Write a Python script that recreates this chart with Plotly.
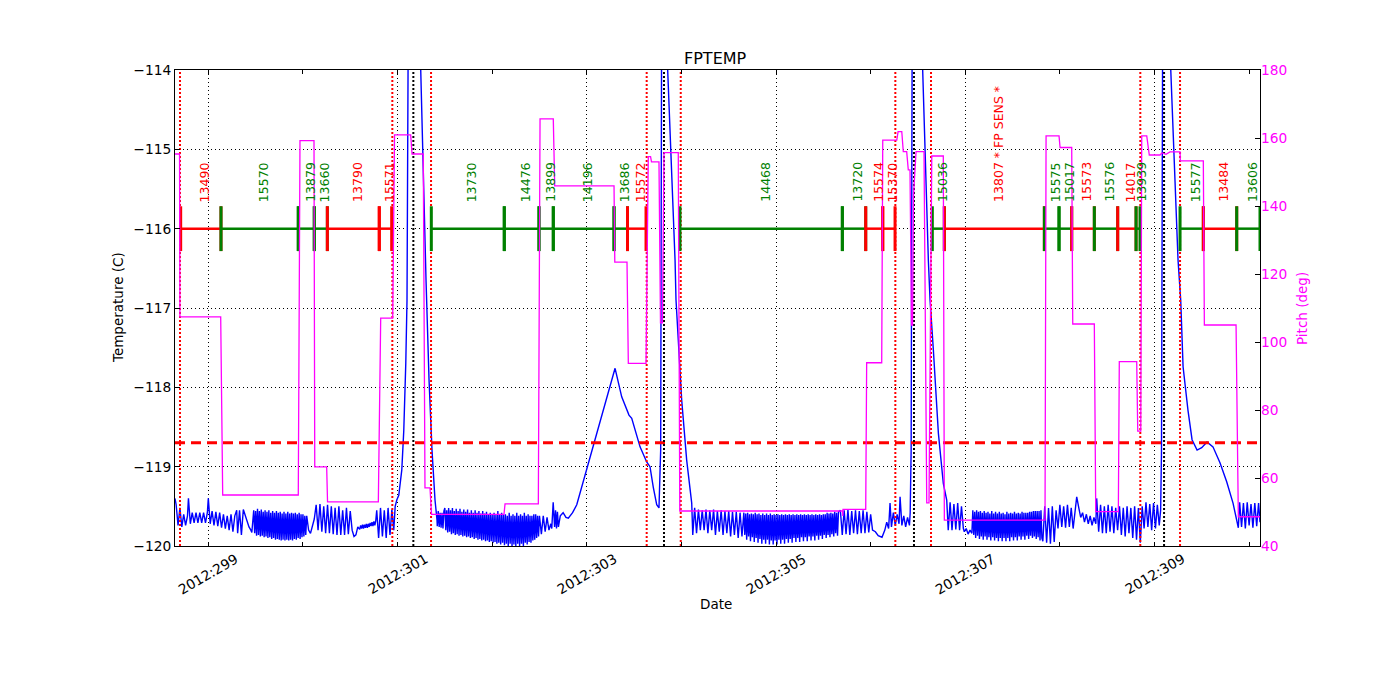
import plotly.graph_objects as go

# ------------------------------------------------------------------ data
x_range = [298.648, 310.115]
temp_range = [-120, -114]
pitch_range = [40, 180]

date_tick_days = [299, 301, 303, 305, 307, 309]
date_tick_text = ["2012:299", "2012:301", "2012:303", "2012:305", "2012:307", "2012:309"]

temp_limit = -118.7
bar_level = -116.0
label_level = -115.69

rad_zone_days = [298.701, 300.945, 301.354, 303.633, 303.993, 306.261, 306.638, 308.850, 309.270]
perigee_days = [301.167, 303.816, 306.458, 309.101]

# (start day, end day, label, colour key)
segments = [
    (298.708, 299.134, "13490", "red"),
    (299.134, 299.951, "15570", "green"),
    (299.951, 300.120, "13879", "green"),
    (300.120, 300.258, "13660", "green"),
    (300.258, 300.807, "13790", "red"),
    (300.807, 300.938, "15571", "red"),
    (301.357, 302.128, "13730", "green"),
    (302.128, 302.495, "14476", "green"),
    (302.495, 302.646, "13899", "green"),
    (302.646, 303.288, "14196", "green"),
    (303.288, 303.430, "13686", "green"),
    (303.430, 303.626, "15572", "red"),
    (303.985, 305.701, "14468", "green"),
    (305.701, 305.948, "13720", "green"),
    (305.948, 306.128, "15574", "red"),
    (306.128, 306.258, "15370", "red"),
    (306.652, 306.779, "15036", "green"),
    (306.779, 307.836, "13807 * FP SENS *", "red"),
    (307.836, 307.991, "15575", "green"),
    (307.991, 308.125, "15017", "green"),
    (308.125, 308.364, "15573", "red"),
    (308.364, 308.611, "15576", "green"),
    (308.611, 308.805, "14017", "red"),
    (308.805, 308.847, "13939", "green"),
    (309.270, 309.516, "15577", "green"),
    (309.516, 309.869, "13484", "red"),
    (309.869, 310.115, "13606", "green"),
]

# temperature (day, deg C)
temp_a = [
    (298.648, -119.40), (298.66, -119.48), (298.68, -119.74), (298.70, -119.52), (298.72, -119.76),
    (298.74, -119.60), (298.76, -119.74), (298.78, -119.62), (298.79, -119.40), (298.81, -119.72),
    (298.83, -119.58), (298.85, -119.71), (298.87, -119.58), (298.89, -119.71), (298.91, -119.58),
    (298.93, -119.71), (298.95, -119.58), (298.97, -119.71), (298.99, -119.58), (299.00, -119.40),
    (299.02, -119.72), (299.04, -119.56), (299.06, -119.74), (299.08, -119.57), (299.10, -119.75),
    (299.12, -119.58), (299.14, -119.77), (299.16, -119.60), (299.18, -119.78), (299.20, -119.62),
    (299.22, -119.80), (299.24, -119.60), (299.26, -119.82), (299.28, -119.62), (299.30, -119.55),
    (299.31, -119.84), (299.33, -119.55), (299.35, -119.86), (299.37, -119.54), (299.39, -119.62),
    (299.41, -119.70), (299.43, -119.76), (299.45, -119.80), (299.46, -119.83),
    (299.48, -119.55), (299.49, -119.84), (299.50, -119.56), (299.51, -119.87), (299.52, -119.53),
    (299.53, -119.86), (299.54, -119.56), (299.55, -119.88), (299.56, -119.54), (299.57, -119.87),
    (299.58, -119.57), (299.59, -119.89), (299.60, -119.55), (299.61, -119.88), (299.62, -119.57),
    (299.63, -119.90), (299.64, -119.55), (299.65, -119.89), (299.66, -119.58), (299.67, -119.91),
    (299.68, -119.56), (299.69, -119.90), (299.70, -119.58), (299.71, -119.92), (299.72, -119.56),
    (299.73, -119.91), (299.74, -119.58), (299.75, -119.92), (299.76, -119.57), (299.77, -119.93),
    (299.78, -119.59), (299.79, -119.92), (299.80, -119.57), (299.81, -119.93), (299.82, -119.59),
    (299.83, -119.92), (299.84, -119.57), (299.85, -119.93), (299.86, -119.59), (299.87, -119.92),
    (299.88, -119.58), (299.89, -119.93), (299.90, -119.59), (299.91, -119.91), (299.92, -119.58),
    (299.93, -119.92), (299.94, -119.60), (299.95, -119.90), (299.96, -119.58), (299.97, -119.91),
    (299.98, -119.60), (299.99, -119.89), (300.00, -119.60), (300.01, -119.88), (300.02, -119.62),
    (300.03, -119.86), (300.04, -119.62), (300.06, -119.80), (300.08, -119.84),
    (300.10, -119.76), (300.12, -119.66), (300.14, -119.48), (300.16, -119.80), (300.18, -119.47),
    (300.20, -119.82), (300.22, -119.50), (300.24, -119.84), (300.26, -119.48), (300.28, -119.84),
    (300.30, -119.50), (300.32, -119.85), (300.34, -119.52), (300.36, -119.86), (300.38, -119.50),
    (300.40, -119.86), (300.42, -119.55), (300.44, -119.86), (300.46, -119.52), (300.48, -119.85),
    (300.50, -119.56), (300.52, -119.80), (300.54, -119.88), (300.56, -119.86), (300.58, -119.76),
    (300.60, -119.79), (300.61, -119.74), (300.62, -119.78), (300.63, -119.73), (300.64, -119.78),
    (300.65, -119.73), (300.66, -119.77), (300.67, -119.72), (300.68, -119.77), (300.69, -119.72),
    (300.70, -119.76), (300.71, -119.71), (300.72, -119.75), (300.73, -119.70), (300.74, -119.75),
    (300.75, -119.69), (300.76, -119.74), (300.77, -119.68), (300.78, -119.55), (300.80, -119.90),
    (300.82, -119.52), (300.84, -119.88), (300.86, -119.55), (300.88, -119.90), (300.90, -119.52),
    (300.92, -119.86), (300.94, -119.54), (300.96, -119.80), (300.975, -119.50),
]
temp_spike1 = [
    (300.992, -119.42), (301.013, -119.36), (301.045, -119.04), (301.066, -118.54), (301.087, -117.70),
    (301.100, -116.90), (301.111, -114.00), (301.120, -113.00), (301.235, -113.00), (301.245, -114.00),
    (301.301, -116.65), (301.333, -117.91), (301.364, -118.79), (301.396, -119.42), (301.417, -119.67),
]
temp_b = [
    (301.42, -119.75), (301.43, -119.56), (301.44, -119.76), (301.45, -119.58), (301.46, -119.77),
    (301.47, -119.58), (301.48, -119.78), (301.49, -119.56),
    (301.50, -119.52), (301.51, -119.80), (301.52, -119.55), (301.53, -119.83), (301.54, -119.52),
    (301.55, -119.82), (301.56, -119.55), (301.57, -119.85), (301.58, -119.52), (301.59, -119.84),
    (301.60, -119.56), (301.61, -119.86), (301.62, -119.53), (301.63, -119.85), (301.64, -119.56),
    (301.65, -119.87), (301.66, -119.53), (301.67, -119.86), (301.68, -119.57), (301.69, -119.88),
    (301.70, -119.54), (301.71, -119.87), (301.72, -119.57), (301.73, -119.89), (301.74, -119.54),
    (301.75, -119.88), (301.76, -119.58), (301.77, -119.90), (301.78, -119.55), (301.79, -119.89),
    (301.80, -119.58), (301.81, -119.91), (301.82, -119.55), (301.83, -119.90), (301.84, -119.58),
    (301.85, -119.92), (301.86, -119.56), (301.87, -119.91), (301.88, -119.59), (301.89, -119.93),
    (301.90, -119.56), (301.91, -119.92), (301.92, -119.59), (301.93, -119.94), (301.94, -119.57),
    (301.95, -119.93), (301.96, -119.60), (301.97, -119.95), (301.98, -119.58), (301.99, -119.94),
    (302.00, -119.60), (302.01, -119.96), (302.02, -119.58), (302.03, -119.95), (302.04, -119.61),
    (302.05, -119.97), (302.06, -119.56), (302.07, -119.96), (302.08, -119.60), (302.09, -119.98),
    (302.10, -119.58), (302.11, -119.96), (302.12, -119.61), (302.13, -119.99), (302.14, -119.60),
    (302.15, -119.97), (302.16, -119.62), (302.17, -120.00), (302.18, -119.58), (302.19, -119.97),
    (302.20, -119.62), (302.21, -120.00), (302.22, -119.60), (302.23, -119.98), (302.24, -119.62),
    (302.25, -120.00), (302.26, -119.58), (302.27, -119.97), (302.28, -119.62), (302.29, -120.00),
    (302.30, -119.60), (302.31, -119.97), (302.32, -119.62), (302.33, -120.00), (302.34, -119.58),
    (302.35, -119.96), (302.36, -119.62), (302.37, -119.98), (302.38, -119.60), (302.39, -119.95),
    (302.40, -119.62), (302.41, -119.96), (302.42, -119.62), (302.43, -119.93), (302.44, -119.60),
    (302.45, -119.92), (302.46, -119.60), (302.47, -119.90), (302.48, -119.62), (302.49, -119.88),
    (302.50, -119.62), (302.52, -119.85), (302.54, -119.62),
    (302.56, -119.82), (302.58, -119.64), (302.60, -119.80), (302.62, -119.72), (302.63, -119.78),
    (302.645, -119.45), (302.66, -119.76), (302.67, -119.55), (302.68, -119.78), (302.69, -119.57),
    (302.70, -119.76), (302.72, -119.62), (302.75, -119.58), (302.78, -119.64),
]
temp_spike2 = [
    (302.805, -119.65), (302.85, -119.58), (302.894, -119.48), (302.98, -119.11), (303.00, -119.02),
    (303.105, -118.58), (303.20, -118.18), (303.299, -117.76), (303.369, -118.12), (303.446, -118.35),
    (303.475, -118.39), (303.520, -118.56), (303.563, -118.75), (303.633, -118.94), (303.647, -118.97),
    (303.668, -119.00), (303.703, -119.26), (303.739, -119.48), (303.763, -119.52), (303.781, -118.79),
    (303.790, -114.00), (303.795, -113.00), (303.850, -113.00), (303.855, -114.00), (303.933, -116.40),
    (303.943, -116.90), (304.003, -118.16), (304.056, -118.92), (304.109, -119.46),
]
temp_c = [
    (304.12, -119.86), (304.14, -119.52), (304.16, -119.84), (304.18, -119.54), (304.20, -119.80),
    (304.22, -119.55), (304.24, -119.80), (304.26, -119.54), (304.28, -119.84), (304.30, -119.55),
    (304.32, -119.80), (304.34, -119.54), (304.36, -119.86), (304.38, -119.56), (304.40, -119.82),
    (304.42, -119.55), (304.44, -119.86), (304.46, -119.56), (304.48, -119.84), (304.50, -119.56),
    (304.52, -119.88), (304.54, -119.57), (304.56, -119.86), (304.58, -119.57), (304.60, -119.90),
    (304.62, -119.58), (304.64, -119.88),
    (304.66, -119.58), (304.67, -119.86), (304.68, -119.59), (304.69, -119.92), (304.70, -119.58),
    (304.71, -119.88), (304.72, -119.60), (304.73, -119.94), (304.74, -119.59), (304.75, -119.89),
    (304.76, -119.60), (304.77, -119.95), (304.78, -119.58), (304.79, -119.90), (304.80, -119.60),
    (304.81, -119.96), (304.82, -119.59), (304.83, -119.91), (304.84, -119.61), (304.85, -119.97),
    (304.86, -119.59), (304.87, -119.92), (304.88, -119.61), (304.89, -119.97), (304.90, -119.59),
    (304.91, -119.92), (304.92, -119.61), (304.93, -119.98), (304.94, -119.59), (304.95, -119.93),
    (304.96, -119.61), (304.97, -119.98), (304.98, -119.60), (304.99, -119.93), (305.00, -119.61),
    (305.01, -119.98), (305.02, -119.60), (305.03, -119.92), (305.04, -119.61), (305.05, -119.97),
    (305.06, -119.60), (305.07, -119.92), (305.08, -119.61), (305.09, -119.97), (305.10, -119.60),
    (305.11, -119.91), (305.12, -119.61), (305.13, -119.96), (305.14, -119.60), (305.15, -119.91),
    (305.16, -119.61), (305.17, -119.96), (305.18, -119.60), (305.19, -119.90), (305.20, -119.61),
    (305.21, -119.95), (305.22, -119.60), (305.23, -119.90), (305.24, -119.61), (305.25, -119.95),
    (305.26, -119.60), (305.27, -119.89), (305.28, -119.61), (305.29, -119.94), (305.30, -119.60),
    (305.31, -119.89), (305.32, -119.61), (305.33, -119.94), (305.34, -119.60), (305.35, -119.88),
    (305.36, -119.61), (305.37, -119.93), (305.38, -119.60), (305.39, -119.88), (305.40, -119.61),
    (305.41, -119.93), (305.42, -119.60), (305.43, -119.87), (305.44, -119.61), (305.45, -119.92),
    (305.46, -119.60), (305.47, -119.87), (305.48, -119.61), (305.49, -119.91), (305.50, -119.60),
    (305.51, -119.86), (305.52, -119.60), (305.53, -119.90), (305.54, -119.58), (305.55, -119.86),
    (305.56, -119.59), (305.57, -119.89), (305.58, -119.58), (305.59, -119.85), (305.60, -119.59),
    (305.61, -119.88), (305.62, -119.57), (305.63, -119.84), (305.64, -119.58), (305.65, -119.87),
    (305.66, -119.57),
    (305.68, -119.55), (305.70, -119.86),
    (305.72, -119.55), (305.74, -119.85), (305.76, -119.54), (305.78, -119.86), (305.80, -119.56),
    (305.82, -119.84), (305.84, -119.55), (305.86, -119.85), (305.88, -119.56), (305.90, -119.84),
    (305.92, -119.55), (305.94, -119.84), (305.96, -119.57), (305.98, -119.83), (306.00, -119.60),
    (306.02, -119.80), (306.05, -119.82), (306.08, -119.87), (306.12, -119.89), (306.15, -119.80),
    (306.17, -119.70), (306.19, -119.78), (306.205, -119.46), (306.22, -119.76), (306.24, -119.58),
    (306.26, -119.74), (306.28, -119.60), (306.30, -119.72), (306.311, -119.38), (306.33, -119.74),
    (306.35, -119.62), (306.37, -119.76), (306.39, -119.64), (306.41, -119.74),
]
temp_spike3 = [
    (306.418, -119.58), (306.428, -118.80), (306.437, -114.00), (306.440, -113.00), (306.545, -113.00),
    (306.550, -114.00), (306.610, -116.40), (306.628, -116.90), (306.663, -117.53), (306.716, -118.58),
    (306.768, -119.21), (306.804, -119.42),
]
temp_d = [
    (306.82, -119.80), (306.84, -119.45), (306.86, -119.80), (306.88, -119.47), (306.90, -119.79),
    (306.92, -119.46), (306.94, -119.80), (306.96, -119.50), (306.98, -119.78), (306.99, -119.82),
    (307.01, -119.78), (307.03, -119.85), (307.05, -119.80), (307.07, -119.84),
    (307.08, -119.55), (307.09, -119.86), (307.10, -119.57), (307.11, -119.90), (307.12, -119.55),
    (307.13, -119.87), (307.14, -119.57), (307.15, -119.91), (307.16, -119.56), (307.17, -119.88),
    (307.18, -119.58), (307.19, -119.92), (307.20, -119.56), (307.21, -119.88), (307.22, -119.58),
    (307.23, -119.92), (307.24, -119.57), (307.25, -119.89), (307.26, -119.59), (307.27, -119.93),
    (307.28, -119.56), (307.29, -119.89), (307.30, -119.59), (307.31, -119.93), (307.32, -119.57),
    (307.33, -119.90), (307.34, -119.59), (307.35, -119.94), (307.36, -119.57), (307.37, -119.90),
    (307.38, -119.59), (307.39, -119.94), (307.40, -119.58), (307.41, -119.90), (307.42, -119.60),
    (307.43, -119.94), (307.44, -119.57), (307.45, -119.90), (307.46, -119.59), (307.47, -119.94),
    (307.48, -119.58), (307.49, -119.89), (307.50, -119.59), (307.51, -119.93), (307.52, -119.57),
    (307.53, -119.89), (307.54, -119.59), (307.55, -119.93), (307.56, -119.58), (307.57, -119.88),
    (307.58, -119.59), (307.59, -119.92), (307.60, -119.57), (307.61, -119.88), (307.62, -119.58),
    (307.63, -119.92), (307.64, -119.58), (307.65, -119.87), (307.66, -119.58), (307.67, -119.91),
    (307.68, -119.57), (307.69, -119.87), (307.70, -119.57), (307.71, -119.90), (307.72, -119.56),
    (307.73, -119.88), (307.74, -119.56), (307.75, -119.91), (307.76, -119.56), (307.77, -119.89),
    (307.78, -119.56), (307.79, -119.93), (307.80, -119.55), (307.81, -119.90), (307.82, -119.94),
    (307.84, -119.50), (307.86, -119.96), (307.88, -119.52),
    (307.90, -119.97), (307.92, -119.50), (307.94, -119.95), (307.96, -119.55), (307.98, -119.78),
    (308.00, -119.48), (308.02, -119.76), (308.04, -119.50), (308.06, -119.77), (308.08, -119.48),
    (308.10, -119.76), (308.12, -119.52), (308.14, -119.78), (308.16, -119.55), (308.178, -119.38),
    (308.20, -119.52), (308.22, -119.64), (308.24, -119.58), (308.26, -119.70), (308.28, -119.60),
    (308.30, -119.72), (308.32, -119.62), (308.34, -119.74), (308.36, -119.64), (308.38, -119.72),
    (308.389, -119.40), (308.41, -119.82), (308.43, -119.48), (308.45, -119.84), (308.47, -119.50),
    (308.49, -119.84), (308.51, -119.48), (308.53, -119.82), (308.55, -119.50), (308.57, -119.84),
    (308.59, -119.52), (308.61, -119.80), (308.63, -119.50), (308.65, -119.86), (308.67, -119.52),
    (308.69, -119.88), (308.71, -119.50), (308.73, -119.84), (308.75, -119.52), (308.77, -119.90),
    (308.79, -119.50), (308.81, -119.92), (308.83, -119.52), (308.85, -119.96), (308.87, -119.50),
    (308.89, -119.78), (308.91, -119.45), (308.93, -119.76), (308.95, -119.47), (308.97, -119.80),
    (308.99, -119.46), (309.01, -119.78), (309.03, -119.48), (309.05, -119.74),
]
temp_spike4 = [
    (309.065, -119.55), (309.074, -118.80), (309.085, -114.00), (309.090, -113.00), (309.165, -113.00),
    (309.172, -114.00), (309.249, -116.40), (309.277, -116.90), (309.302, -117.74), (309.354, -118.29),
    (309.397, -118.66), (309.450, -118.79), (309.499, -118.76), (309.555, -118.69), (309.618, -118.75),
    (309.692, -118.95), (309.763, -119.19), (309.830, -119.46), (309.886, -119.77),
]
temp_e = [
    (309.90, -119.45), (309.92, -119.76), (309.94, -119.46), (309.96, -119.78), (309.98, -119.45),
    (310.00, -119.74), (310.02, -119.47), (310.04, -119.77), (310.06, -119.46), (310.08, -119.75),
    (310.10, -119.46), (310.115, -119.70),
]

# pitch (day, deg)
pitch_pts = [
    (298.648, 155.3), (298.696, 155.3), (298.700, 107.4), (299.131, 107.4), (299.152, 55.0),
    (299.951, 55.0), (299.969, 159.2), (300.117, 159.2), (300.125, 63.3), (300.251, 63.3),
    (300.260, 53.0), (300.797, 53.0), (300.822, 107.0), (300.949, 107.0), (300.968, 160.9),
    (301.139, 160.9), (301.153, 155.3), (301.272, 155.3), (301.290, 57.1), (301.343, 57.1),
    (301.359, 49.3), (302.125, 49.3), (302.136, 52.4), (302.488, 52.4), (302.506, 165.6),
    (302.646, 165.6), (302.661, 145.9), (303.288, 145.9), (303.296, 123.5), (303.425, 123.5),
    (303.439, 93.7), (303.626, 93.7), (303.650, 154.5), (303.674, 154.5), (303.684, 153.0),
    (303.763, 153.0), (303.779, 105.6), (303.800, 105.6), (303.816, 155.7), (303.967, 155.7),
    (303.983, 50.3), (305.704, 50.3), (305.706, 48.8), (305.708, 50.8), (305.948, 50.8),
    (305.958, 93.9), (306.117, 93.9), (306.128, 159.4), (306.276, 159.4), (306.290, 161.9),
    (306.329, 161.9), (306.345, 156.0), (306.381, 156.0), (306.398, 150.6), (306.416, 150.6),
    (306.432, 105.0), (306.443, 105.0), (306.453, 143.2), (306.480, 156.0), (306.564, 156.0),
    (306.593, 52.7), (306.617, 52.7), (306.646, 154.7), (306.768, 154.7), (306.779, 47.6),
    (307.843, 47.6), (307.854, 160.6), (307.991, 160.6), (308.002, 157.2), (308.125, 157.2),
    (308.136, 105.3), (308.364, 105.3), (308.379, 50.1), (308.618, 50.1), (308.628, 94.2),
    (308.812, 94.2), (308.823, 73.8), (308.855, 73.8), (308.865, 160.6), (308.918, 160.6),
    (308.945, 155.0), (309.058, 155.0), (309.079, 155.6), (309.122, 155.2), (309.164, 155.9),
    (309.270, 155.9), (309.273, 153.3), (309.516, 153.3), (309.527, 105.0), (309.862, 105.0),
    (309.886, 48.6), (310.115, 48.6),
]

# ------------------------------------------------------------------ build
temperature = temp_a + temp_spike1 + temp_b + temp_spike2 + temp_c + temp_spike3 + temp_d + temp_spike4 + temp_e
temp_day = [p[0] for p in temperature]
temp_val = [p[1] for p in temperature]
pitch_day = [p[0] for p in pitch_pts]
pitch_val = [p[1] for p in pitch_pts]

COL = {"red": "#ff0000", "green": "#008000"}
FONT = "DejaVu Sans"

fig = go.Figure()

fig.add_trace(go.Scatter(x=temp_day, y=temp_val, mode="lines",
                         line=dict(color="#0000ff", width=1.4), showlegend=False, hoverinfo="skip"))

fig.add_trace(go.Scatter(x=x_range, y=[temp_limit, temp_limit], mode="lines",
                         line=dict(color="#ff0000", width=3, dash="10px,6px"), showlegend=False))


def vlines(days):
    xs, ys = [], []
    for d in days:
        xs += [d, d, None]
        ys += [temp_range[0], temp_range[1], None]
    return xs, ys


xs, ys = vlines(rad_zone_days)
fig.add_trace(go.Scatter(x=xs, y=ys, mode="lines",
                         line=dict(color="#ff0000", width=2, dash="2px,2px"), showlegend=False))
xs, ys = vlines(perigee_days)
fig.add_trace(go.Scatter(x=xs, y=ys, mode="lines",
                         line=dict(color="#000000", width=2, dash="2px,2px"), showlegend=False))

annotations = []
for s, e, lab, c in segments:
    fig.add_trace(go.Scatter(
        x=[s, e], y=[bar_level, bar_level], mode="lines+markers",
        line=dict(color=COL[c], width=2.5),
        marker=dict(symbol="line-ns", size=32, line=dict(color=COL[c], width=3)),
        showlegend=False, cliponaxis=True))
    annotations.append(dict(x=(s + e) / 2, y=label_level, xref="x", yref="y", text=lab,
                            textangle=-90, showarrow=False, xanchor="center", yanchor="bottom",
                            xshift=3.5, font=dict(family=FONT, size=12.5, color=COL[c])))

fig.add_trace(go.Scatter(x=pitch_day, y=pitch_val, mode="lines", yaxis="y2",
                         line=dict(color="#ff00ff", width=1.3), showlegend=False))

for d, t in zip(date_tick_days, date_tick_text):
    annotations.append(dict(x=d, y=-0.0126, xref="x", yref="paper", text=t, textangle=-30,
                            showarrow=False, xanchor="center", yanchor="top", yshift=4,
                            font=dict(family=FONT, size=13.8, color="black")))

annotations += [
    dict(x=0.4986, y=-0.1218, xref="paper", yref="paper", text="Date", showarrow=False,
         xanchor="center", yanchor="middle", font=dict(family=FONT, size=13.5, color="black")),
    dict(x=-0.0525, y=0.5, xref="paper", yref="paper", text="Temperature (C)", showarrow=False,
         textangle=-90, xanchor="center", yanchor="middle", font=dict(family=FONT, size=13.5, color="black")),
    dict(x=1.0387, y=0.5, xref="paper", yref="paper", text="Pitch (deg)", showarrow=False,
         textangle=-90, xanchor="center", yanchor="middle", font=dict(family=FONT, size=13.5, color="#ff00ff")),
    dict(x=0.4986, y=1.025, xref="paper", yref="paper", text="FPTEMP", showarrow=False,
         xanchor="center", yanchor="middle", font=dict(family=FONT, size=16, color="black")),
]

# the page body adds an 8 px offset, so the figure is 8 px smaller and margins shifted
fig.update_layout(
    width=1392, height=692,
    margin=dict(l=167, r=140, t=62, b=154, pad=0),
    paper_bgcolor="white", plot_bgcolor="white",
    font=dict(family=FONT, size=13.8, color="black"),
    annotations=annotations,
    xaxis=dict(range=x_range, showline=True, linecolor="black", linewidth=1, mirror="ticks",
               tickmode="linear", tick0=299, dtick=2, ticks="inside", ticklen=4, tickcolor="black",
               showticklabels=False, showgrid=True, gridcolor="black", gridwidth=0.7, griddash="1px,3px",
               zeroline=False,
               minor=dict(tick0=299, dtick=1, ticks="inside", ticklen=4, tickcolor="black", showgrid=False)),
    yaxis=dict(range=temp_range, showline=True, linecolor="black", linewidth=1, mirror=True,
               tickmode="linear", tick0=-120, dtick=1, ticks="inside", ticklen=5, tickcolor="black",
               showgrid=True, gridcolor="black", gridwidth=0.7, griddash="1px,3px", zeroline=False,
               tickfont=dict(family=FONT, size=13.8, color="black")),
    yaxis2=dict(range=pitch_range, overlaying="y", side="right", showline=False,
                tickmode="linear", tick0=40, dtick=20, ticks="inside", ticklen=5, tickcolor="black",
                showgrid=False, zeroline=False, tickfont=dict(family=FONT, size=13.8, color="#ff00ff")),
)

fig.write_html("out.html")
